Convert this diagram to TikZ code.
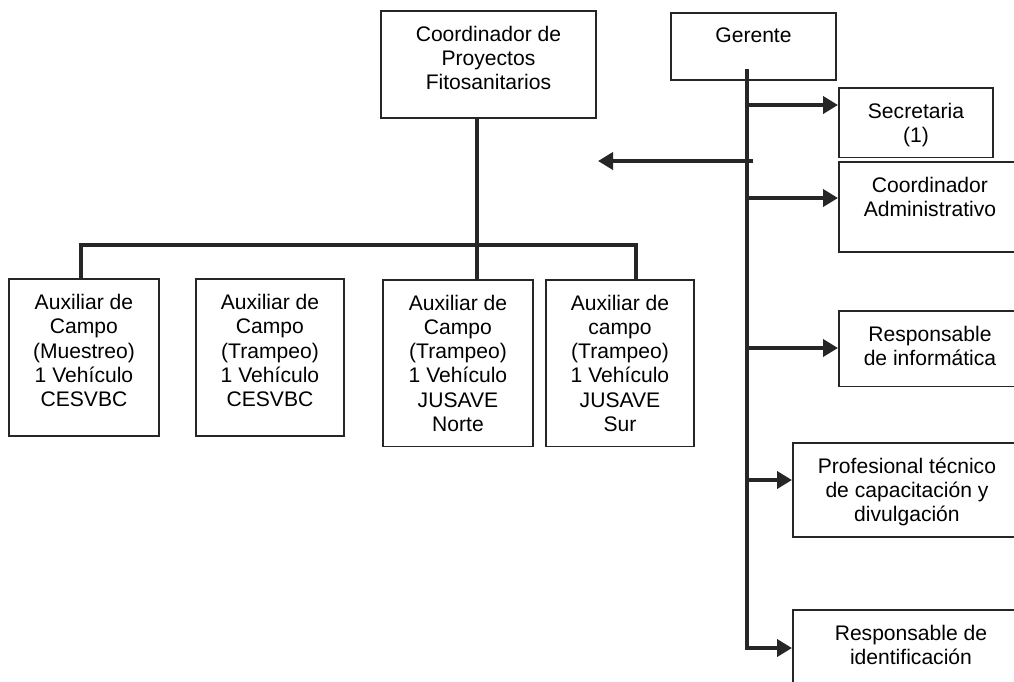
\documentclass[tikz,border=0pt]{standalone}
\usepackage{fontspec}
\setmainfont{Liberation Sans}
\usetikzlibrary{arrows.meta}
\definecolor{ink}{RGB}{38,38,38}
\newcommand\pxl{0.02cm}

\begin{document}
\begin{tikzpicture}[x=0.02cm,y=-0.02cm,
  caja/.style={draw=ink, line width=1.1pt, align=center, anchor=north west,
    inner xsep=2pt, inner ysep=0.3cm, font=\fontsize{12}{13.8}\selectfont},
  enlace/.style={draw=ink, line width=2.3pt},
  flecha/.style={enlace, -{Triangle[length=0.3cm,width=0.34cm]}}]

\useasboundingbox (0,0) rectangle (1014,681);
\clip (0,0) rectangle (1014,681);

\node[caja, minimum width=215*\pxl, minimum height=107*\pxl, text depth=0.26cm] (coord) at (380,10)
  {Coordinador de\\Proyectos\\Fitosanitarios};
\node[caja, minimum width=165*\pxl, minimum height=67*\pxl, text depth=0.44cm] (gerente) at (670,12)
  {Gerente};

\node[caja, minimum width=154*\pxl, minimum height=66*\pxl, text depth=0pt] (secre) at (838,87)
  {Secretaria\\(1)};
\node[caja, minimum width=182*\pxl, minimum height=90*\pxl, text depth=0.41cm] (admin) at (838,161)
  {Coordinador\\Administrativo};
\node[caja, minimum width=182*\pxl, minimum height=75*\pxl, text depth=0.12cm] (info) at (838,310)
  {Responsable\\de informática};
\node[caja, minimum width=228*\pxl, minimum height=93*\pxl, text depth=0pt] (prof) at (792,442)
  {Profesional técnico\\de capacitación y\\divulgación};
\node[caja, minimum width=236*\pxl, minimum height=73*\pxl, text depth=0.06cm] (ident) at (792,609)
  {Responsable de\\identificación};

\node[caja, minimum width=150*\pxl, minimum height=157*\pxl, text depth=0.28cm] (aux1) at (8,278)
  {Auxiliar de\\Campo\\(Muestreo)\\1 Vehículo\\CESVBC};
\node[caja, minimum width=148*\pxl, minimum height=157*\pxl, text depth=0.28cm] (aux2) at (195,278)
  {Auxiliar de\\Campo\\(Trampeo)\\1 Vehículo\\CESVBC};
\node[caja, minimum width=150*\pxl, minimum height=165*\pxl, text depth=0pt] (aux3) at (382,279)
  {Auxiliar de\\Campo\\(Trampeo)\\1 Vehículo\\JUSAVE\\Norte};
\node[caja, minimum width=148*\pxl, minimum height=165*\pxl, text depth=0pt] (aux4) at (545,279)
  {Auxiliar de\\campo\\(Trampeo)\\1 Vehículo\\JUSAVE\\Sur};

\coordinate (barL) at (81,245);
\coordinate (barM) at (477,245);
\coordinate (barR) at (636,245);
\draw[enlace] (coord.south -| barM) -- (aux3.north -| barM);
\draw[enlace, line join=miter] (aux1.north -| barL) |- (barR) -- (aux4.north -| barR);

\coordinate (g0) at (747,69);
\coordinate (g5) at (747,648);
\draw[flecha, line join=miter] (g0) |- (ident.west |- g5);
\foreach \yy/\dest in {105/secre,198/admin,348/info,480/prof}
  \draw[flecha] (747,\yy) -- (\dest.west |- 0,\yy);

\coordinate (cruce) at (753,161);
\coordinate (izq) at (598,161);
\draw[flecha] (cruce) -- (izq);

\end{tikzpicture}
\end{document}
